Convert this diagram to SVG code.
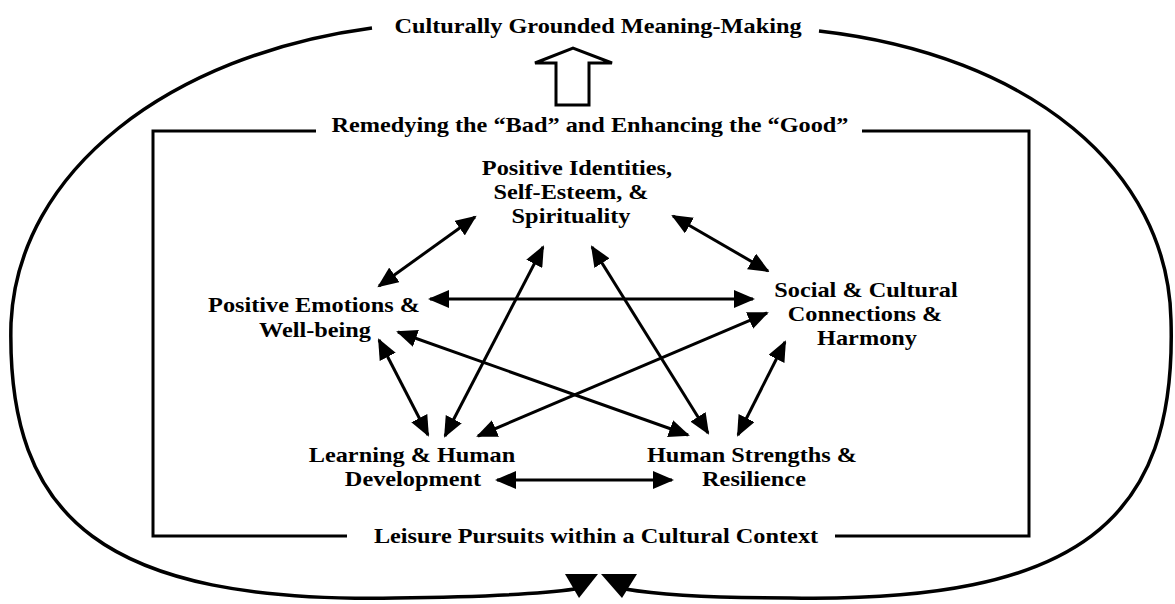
<svg xmlns="http://www.w3.org/2000/svg" width="1175" height="604" viewBox="0 0 1175 604">
<style>
.t{font-family:"Liberation Serif","Times New Roman",serif;font-weight:bold;font-size:21.5px;text-anchor:middle;fill:#000}
.ln{fill:none;stroke:#000;stroke-width:3}
.loop{fill:none;stroke:#000;stroke-width:3.5}
.con{fill:none;stroke:#000;stroke-width:3;marker-start:url(#ah);marker-end:url(#ah)}
</style>
<defs>
<marker id="ah" markerUnits="userSpaceOnUse" markerWidth="22" markerHeight="18" refX="19" refY="9" orient="auto-start-reverse" viewBox="0 0 22 18">
<path d="M0,0 L21,9 L0,18 Z" fill="#000"/>
</marker>
</defs>
<rect width="1175" height="604" fill="#fff"/>
<g id="outer-loop">
<path class="loop" d="M372,28 C170,55 18,170 11,323 C6,520 105,603 395,598 C480,597 540,594 575,589"/>
<path class="loop" d="M819,31 C1030,55 1168,170 1171,320 C1177,520 1080,603 790,598 C720,598 660,595 625,589"/>
<polygon points="565,574 598,574 579,598" fill="#000"/>
<polygon points="601,574 637,574 622,598" fill="#000"/>
</g>
<g id="label-meaning">
<text class="t" transform="translate(598,33) scale(1.13,1)">Culturally Grounded Meaning-Making</text>
</g>
<g id="up-arrow">
<polygon points="556,105 589,105 589,63 612,63 573,48 535,63 556,63" fill="#fff" stroke="#000" stroke-width="3" stroke-linejoin="miter"/>
</g>
<g id="frame">
<path class="ln" d="M316,131 H153 V536 H347"/>
<path class="ln" d="M862,131 H1029 V536 H835"/>
<text class="t" transform="translate(590,132) scale(1.13,1)">Remedying the “Bad” and Enhancing the “Good”</text>
<text class="t" transform="translate(596,543) scale(1.13,1)">Leisure Pursuits within a Cultural Context</text>
</g>
<g id="node-identities">
<text class="t" transform="translate(577,175) scale(1.13,1)">Positive Identities,</text>
<text class="t" transform="translate(571,199) scale(1.13,1)">Self-Esteem, &amp;</text>
<text class="t" transform="translate(571,223) scale(1.13,1)">Spirituality</text>
</g>
<g id="node-social">
<text class="t" transform="translate(866,297) scale(1.13,1)">Social &amp; Cultural</text>
<text class="t" transform="translate(865,321) scale(1.13,1)">Connections &amp;</text>
<text class="t" transform="translate(867,345) scale(1.13,1)">Harmony</text>
</g>
<g id="node-emotions">
<text class="t" transform="translate(314,312) scale(1.13,1)">Positive Emotions &amp;</text>
<text class="t" transform="translate(315,337) scale(1.13,1)">Well-being</text>
</g>
<g id="node-learning">
<text class="t" transform="translate(412,462) scale(1.13,1)">Learning &amp; Human</text>
<text class="t" transform="translate(413,486) scale(1.13,1)">Development</text>
</g>
<g id="node-strengths">
<text class="t" transform="translate(752,462) scale(1.13,1)">Human Strengths &amp;</text>
<text class="t" transform="translate(754,486) scale(1.13,1)">Resilience</text>
</g>
<g id="connectors">
<line class="con" x1="475" y1="217" x2="379" y2="286"/>
<line class="con" x1="673" y1="216" x2="768" y2="271"/>
<line class="con" x1="430" y1="299" x2="753" y2="299"/>
<line class="con" x1="398" y1="332" x2="688" y2="435"/>
<line class="con" x1="543" y1="247" x2="445" y2="436"/>
<line class="con" x1="592" y1="247" x2="708" y2="433"/>
<line class="con" x1="767" y1="313" x2="478" y2="436"/>
<line class="con" x1="379" y1="340" x2="428" y2="435"/>
<line class="con" x1="785" y1="342" x2="738" y2="435"/>
<line class="con" x1="497" y1="480" x2="672" y2="480"/>
</g>
</svg>
